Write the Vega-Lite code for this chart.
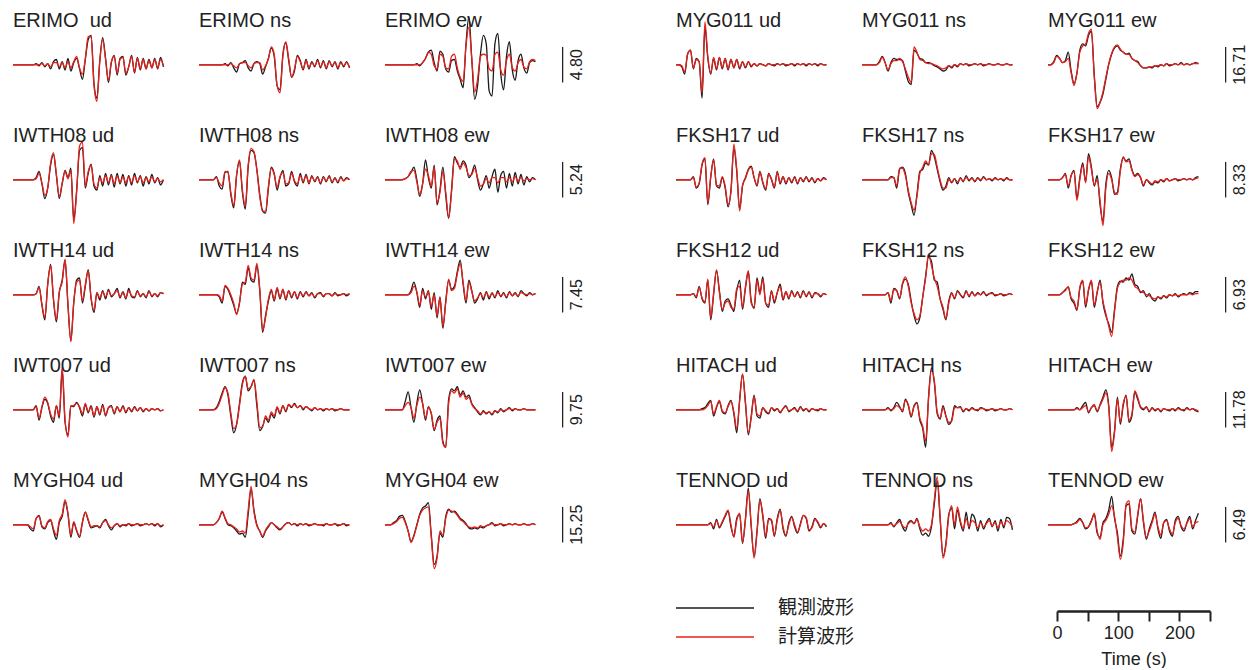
{
  "$schema": "https://vega.github.io/schema/vega-lite/v6.json",
  "background": "white",
  "padding": {"left": 10, "top": 2, "right": 0, "bottom": 0},
  "config": {"view": {"stroke": null}, "font": "Liberation Sans"},
  "spacing": 87,
  "hconcat": [
    {
      "data": {"values": [
        {"s":"ERIMO","c":"ud","p":"ERIMO \u00a0ud","t":[0,5,10,15,20,25,30,35,40,45,50,55,60,65,70,75,80,85,90,95,100,105,110,115,120,125,130,135,140,145,150,155,160,165,170,175,180,185,190,195,200,205,210,215,220,225,230,235,240,245,250,255,260],
         "o":[0,0,0,0,0,0,0,0,1,-1,2,-2,1,-4,3,5,-4,3,-5,6,-6,2,6,-4,-14,5,24,28,-18,-32,4,26,6,-17,2,9,-10,6,8,-10,-2,9,-8,7,-5,6,-4,5,-3,6,-4,7,-2],
         "y":[0,0,0,0,0,0,0,0,0,0,1,-1,1,-2,2,2,-2,2,-3,3,-3,3,8,-3,-9,6,27,27,-20,-35,3,24,5,-15,3,8,-8,5,7,-8,-2,8,-7,6,-4,5,-4,4,-3,5,-3,5,-1]},
        {"s":"ERIMO","c":"ns","p":"ERIMO ns","t":[0,5,10,15,20,25,30,35,40,45,50,55,60,65,70,75,80,85,90,95,100,105,110,115,120,125,130,135,140,145,150,155,160,165,170,175,180,185,190,195,200,205,210,215,220,225,230,235,240,245,250,255,260],
         "o":[0,0,0,0,0,0,0,0,0,1,-1,2,-3,-7,1,2,4,-3,-6,1,3,1,-9,-2,6,16,8,-20,-24,10,21,4,-12,-6,9,4,-5,5,-4,3,-2,5,-3,4,-4,4,-2,3,-4,3,-2,3,-3],
         "y":[0,0,0,0,0,0,0,0,0,0,0,1,-1,-3,1,2,2,-1,-3,1,2,2,-5,-1,6,17,10,-20,-27,8,22,6,-12,-4,8,3,-4,4,-3,2,-1,4,-2,3,-3,3,-1,2,-3,2,-1,2,-2]},
        {"s":"ERIMO","c":"ew","p":"ERIMO ew","sb":4.80,"t":[0,5,10,15,20,25,30,35,40,45,50,55,60,65,70,75,80,85,90,95,100,105,110,115,120,125,130,135,140,145,150,155,160,165,170,175,180,185,190,195,200,205,210,215,220,225,230,235,240,245,250,255,260],
         "o":[0,0,0,0,0,0,0,0,0,0,0,1,-1,2,6,12,14,2,-6,13,10,-4,-7,4,5,-6,-14,-22,20,46,5,-33,-20,10,28,20,-25,-30,20,30,-8,-24,8,22,-5,-15,4,10,-3,-8,2,4,3],
         "y":[0,0,0,0,0,0,0,0,0,0,0,0,0,2,6,12,10,-1,-4,10,8,-3,-4,8,10,-3,-12,-16,18,36,6,-26,-14,8,10,9,-4,-6,10,12,-5,-10,4,10,-3,-6,2,5,-2,-4,3,5,4]},
        {"s":"IWTH08","c":"ud","p":"IWTH08 ud","t":[0,5,10,15,20,25,30,35,40,45,50,55,60,65,70,75,80,85,90,95,100,105,110,115,120,125,130,135,140,145,150,155,160,165,170,175,180,185,190,195,200,205,210,215,220,225,230,235,240,245,250,255,260],
         "o":[0,0,0,0,0,0,0,0,2,8,-4,-18,-8,14,24,4,-18,-4,9,2,11,-38,-10,28,31,-8,6,15,-6,-10,4,-6,6,-5,5,-7,6,-4,5,-6,4,-5,6,-3,4,-6,3,-4,5,-3,2,-5,0],
         "y":[0,0,0,0,0,0,0,0,1,6,-3,-15,-8,16,26,5,-16,-3,8,1,9,-42,-12,32,36,-6,8,14,-4,-8,2,-3,4,-3,4,-4,4,-3,3,-3,3,-3,4,-2,3,-3,2,-2,3,-2,1,-2,0]},
        {"s":"IWTH08","c":"ns","p":"IWTH08 ns","t":[0,5,10,15,20,25,30,35,40,45,50,55,60,65,70,75,80,85,90,95,100,105,110,115,120,125,130,135,140,145,150,155,160,165,170,175,180,185,190,195,200,205,210,215,220,225,230,235,240,245,250,255,260],
         "o":[0,0,0,0,0,0,3,-6,-9,7,8,-14,-27,4,18,-12,-28,12,28,26,10,-14,-30,-32,-8,12,6,-10,2,9,-6,-4,8,-2,-6,6,-3,5,-4,4,-2,3,-4,3,-2,4,-3,2,-3,3,-1,2,0],
         "y":[0,0,0,0,0,0,2,-3,-6,8,7,-12,-25,5,19,-10,-25,14,30,27,9,-16,-30,-30,-6,11,5,-7,3,7,-4,-3,6,-1,-4,4,-2,4,-3,3,-1,2,-3,2,-1,3,-2,1,-2,2,-1,1,0]},
        {"s":"IWTH08","c":"ew","p":"IWTH08 ew","sb":5.24,"t":[0,5,10,15,20,25,30,35,40,45,50,55,60,65,70,75,80,85,90,95,100,105,110,115,120,125,130,135,140,145,150,155,160,165,170,175,180,185,190,195,200,205,210,215,220,225,230,235,240,245,250,255,260],
         "o":[0,0,0,0,0,0,0,1,3,7,12,0,-16,-4,19,2,-8,14,-24,-10,12,-15,-37,-10,22,16,12,18,14,2,6,14,0,-10,-4,4,-8,3,10,-12,4,8,-8,6,-6,7,-4,5,-5,3,-2,2,0],
         "y":[0,0,0,0,0,0,0,1,3,8,9,-2,-14,-4,10,4,-6,12,-22,-12,8,-12,-36,-12,20,18,10,16,12,4,5,11,2,-6,-4,1,-3,2,2,-3,2,2,-2,2,-2,3,-1,2,-1,1,0,1,0]},
        {"s":"IWTH14","c":"ud","p":"IWTH14 ud","t":[0,5,10,15,20,25,30,35,40,45,50,55,60,65,70,75,80,85,90,95,100,105,110,115,120,125,130,135,140,145,150,155,160,165,170,175,180,185,190,195,200,205,210,215,220,225,230,235,240,245,250,255,260],
         "o":[0,0,0,0,0,0,0,0,1,8,-10,-24,10,29,-5,-26,2,14,33,-10,-44,-8,14,16,-8,8,24,-4,-17,2,-5,4,-4,5,-2,1,6,-3,3,-4,6,-2,-3,4,-2,1,-3,4,-2,1,-2,2,1],
         "y":[0,0,0,0,0,0,0,0,1,7,-9,-22,10,28,-4,-24,3,12,34,-9,-45,-7,12,14,-6,10,23,-3,-15,2,-3,3,-2,4,-1,1,4,-2,2,-3,4,-1,-2,3,-1,1,-2,3,-1,1,-1,2,1]},
        {"s":"IWTH14","c":"ns","p":"IWTH14 ns","t":[0,5,10,15,20,25,30,35,40,45,50,55,60,65,70,75,80,85,90,95,100,105,110,115,120,125,130,135,140,145,150,155,160,165,170,175,180,185,190,195,200,205,210,215,220,225,230,235,240,245,250,255,260],
         "o":[0,0,0,0,0,0,0,-2,-8,8,5,-2,-10,-18,-8,12,10,26,14,12,28,4,-36,-20,-6,4,-6,6,-4,5,-5,4,-3,3,-4,3,-2,3,-1,2,-3,1,2,-2,1,1,-1,2,-1,0,1,-1,1],
         "y":[0,0,0,0,0,0,0,-1,-6,9,6,0,-8,-19,-7,10,12,28,16,14,30,6,-34,-22,-4,5,-5,7,-3,5,-4,4,-2,3,-3,2,-1,2,-1,1,-2,1,1,-1,1,1,-1,1,0,0,1,0,1]},
        {"s":"IWTH14","c":"ew","p":"IWTH14 ew","sb":7.45,"t":[0,5,10,15,20,25,30,35,40,45,50,55,60,65,70,75,80,85,90,95,100,105,110,115,120,125,130,135,140,145,150,155,160,165,170,175,180,185,190,195,200,205,210,215,220,225,230,235,240,245,250,255,260],
         "o":[0,0,0,0,0,0,0,0,0,4,12,2,-12,6,-4,4,-14,2,-22,-2,-32,-6,14,5,8,22,33,10,-8,14,4,-8,-4,2,-5,3,-4,2,-3,4,-2,2,-3,3,-1,2,-2,4,1,-1,2,0,1],
         "y":[0,0,0,0,0,0,0,0,0,2,8,3,-10,4,-2,3,-11,0,-20,-3,-30,-8,15,4,6,20,30,12,-6,12,3,-6,-3,1,-3,2,-2,1,-2,2,-1,1,-2,2,-1,1,-1,2,1,0,1,0,1]},
        {"s":"IWT007","c":"ud","p":"IWT007 ud","t":[0,5,10,15,20,25,30,35,40,45,50,55,60,65,70,75,80,85,90,95,100,105,110,115,120,125,130,135,140,145,150,155,160,165,170,175,180,185,190,195,200,205,210,215,220,225,230,235,240,245,250,255,260],
         "o":[0,0,0,0,0,0,0,0,4,-10,2,10,6,-6,-12,4,-8,38,-12,-24,4,3,7,2,-6,5,-3,4,-7,3,-5,5,-6,2,4,-4,3,-2,4,-3,2,-2,3,-1,2,-2,1,-1,1,0,1,-1,0],
         "y":[0,0,0,0,0,0,0,0,3,-8,3,12,7,-4,-9,4,-6,41,-10,-26,3,4,6,3,-4,6,-2,3,-6,3,-4,4,-5,2,3,-3,3,-2,3,-2,2,-1,2,-1,2,-1,1,-1,1,0,1,-1,0]},
        {"s":"IWT007","c":"ns","p":"IWT007 ns","t":[0,5,10,15,20,25,30,35,40,45,50,55,60,65,70,75,80,85,90,95,100,105,110,115,120,125,130,135,140,145,150,155,160,165,170,175,180,185,190,195,200,205,210,215,220,225,230,235,240,245,250,255,260],
         "o":[0,0,0,0,0,0,2,8,16,22,14,-6,-22,-14,6,26,32,18,22,28,4,-20,-16,-8,-12,-4,-8,2,-4,4,-2,5,2,6,2,4,0,3,1,-1,2,0,1,-1,1,0,1,-1,0,1,0,0,0],
         "y":[0,0,0,0,0,0,1,6,14,21,16,-3,-18,-14,4,24,32,20,22,29,8,-17,-16,-6,-10,-2,-6,3,-3,4,-1,5,3,5,2,4,1,3,1,0,2,0,1,0,1,0,1,0,0,1,0,0,0]},
        {"s":"IWT007","c":"ew","p":"IWT007 ew","sb":9.75,"t":[0,5,10,15,20,25,30,35,40,45,50,55,60,65,70,75,80,85,90,95,100,105,110,115,120,125,130,135,140,145,150,155,160,165,170,175,180,185,190,195,200,205,210,215,220,225,230,235,240,245,250,255,260],
         "o":[0,0,0,0,0,0,0,8,17,2,-12,6,19,6,-10,3,-4,-20,-10,-6,-30,-36,10,20,18,22,14,18,12,14,6,2,-2,-5,-1,-4,-2,-5,-1,-3,1,-2,0,2,-1,1,0,0,1,0,0,0,0],
         "y":[0,0,0,0,0,0,0,4,7,2,-8,4,12,6,-8,2,-3,-19,-12,-8,-32,-36,6,18,16,20,12,16,10,12,5,1,-1,-4,-2,-3,-2,-4,-1,-2,0,-1,0,1,0,1,0,0,1,0,0,0,0]},
        {"s":"MYGH04","c":"ud","p":"MYGH04 ud","t":[0,5,10,15,20,25,30,35,40,45,50,55,60,65,70,75,80,85,90,95,100,105,110,115,120,125,130,135,140,145,150,155,160,165,170,175,180,185,190,195,200,205,210,215,220,225,230,235,240,245,250,255,260],
         "o":[0,0,0,0,0,0,-4,-6,6,9,-2,-4,2,4,-6,-14,2,8,22,10,-12,2,-6,-12,2,12,4,-3,-2,-1,-3,2,5,-1,-5,-1,1,-2,0,-1,1,-1,0,1,-1,0,1,0,1,-1,1,-2,0],
         "y":[0,0,0,0,0,0,-2,-4,6,8,-1,-3,3,5,-4,-10,4,10,24,11,-10,3,-5,-11,3,12,5,-2,-1,-1,-2,2,4,0,-3,-1,1,-1,0,0,1,0,0,1,0,0,1,0,1,0,1,-1,0]},
        {"s":"MYGH04","c":"ns","p":"MYGH04 ns","t":[0,5,10,15,20,25,30,35,40,45,50,55,60,65,70,75,80,85,90,95,100,105,110,115,120,125,130,135,140,145,150,155,160,165,170,175,180,185,190,195,200,205,210,215,220,225,230,235,240,245,250,255,260],
         "o":[0,0,0,0,0,0,2,6,12,6,0,-1,-3,-6,-9,-8,-12,10,34,14,0,-6,-12,-6,-2,2,0,-3,-5,-2,1,2,0,1,-1,1,0,1,-1,0,1,0,0,-1,1,0,0,1,-1,0,1,-1,0],
         "y":[0,0,0,0,0,0,2,6,13,7,1,0,-2,-4,-7,-6,-8,14,37,12,-1,-6,-11,-5,-1,2,0,-2,-4,-2,1,2,0,1,0,1,0,1,0,0,1,0,0,0,1,0,0,1,0,0,1,0,0]},
        {"s":"MYGH04","c":"ew","p":"MYGH04 ew","sb":15.25,"t":[0,5,10,15,20,25,30,35,40,45,50,55,60,65,70,75,80,85,90,95,100,105,110,115,120,125,130,135,140,145,150,155,160,165,170,175,180,185,190,195,200,205,210,215,220,225,230,235,240,245,250,255,260],
         "o":[0,0,0,2,4,8,9,3,-6,-16,-10,0,10,16,18,21,-10,-38,-30,-8,-12,8,15,12,13,10,6,4,1,-3,-4,-3,-4,-2,-3,-1,0,2,-1,0,1,-1,0,1,0,1,0,0,1,0,0,1,0],
         "y":[0,0,0,1,3,6,7,2,-6,-17,-11,-1,9,14,16,17,-12,-42,-32,-6,-10,6,14,13,12,9,5,3,0,-2,-3,-2,-3,-1,-2,-1,0,1,0,0,1,0,0,1,0,1,0,0,1,0,0,1,0]}
      ]},
      "transform": [{"flatten": ["t", "o", "y"]}],
      "facet": {
        "row": {"field": "s", "type": "nominal", "sort": ["ERIMO", "IWTH08", "IWTH14", "IWT007", "MYGH04"], "header": null},
        "column": {"field": "c", "type": "nominal", "sort": ["ud", "ns", "ew"], "header": null}
      },
      "spacing": {"row": 0, "column": 24},
      "bounds": "flush",
      "spec": {
        "width": 162,
        "height": 115,
        "layer": [
          {"mark": {"type": "line", "color": "#1a1a1a", "strokeWidth": 1.3, "interpolate": "monotone"},
           "encoding": {
             "x": {"field": "t", "type": "quantitative", "scale": {"domain": [0, 265]}, "axis": null},
             "y": {"field": "o", "type": "quantitative", "scale": {"domain": [-42.6, 57.4]}, "axis": null}}},
          {"mark": {"type": "line", "color": "#e8201c", "strokeWidth": 1.3, "interpolate": "monotone"},
           "encoding": {
             "x": {"field": "t", "type": "quantitative"},
             "y": {"field": "y", "type": "quantitative"}}},
          {"transform": [{"filter": "datum.t == 0"}],
           "mark": {"type": "text", "align": "left", "baseline": "middle", "fontSize": 20, "font": "Liberation Sans", "color": "#222"},
           "encoding": {"x": {"datum": 0}, "y": {"datum": 41.7}, "text": {"field": "p"}}},
          {"transform": [{"filter": "datum.t == 0 && isValid(datum.sb)"}],
           "mark": {"type": "rule", "color": "#222", "strokeWidth": 1.3},
           "encoding": {"x": {"datum": 307}, "y": {"datum": -17}, "y2": {"datum": 17}}},
          {"transform": [{"filter": "datum.t == 0 && isValid(datum.sb)"}],
           "mark": {"type": "text", "angle": 270, "align": "center", "baseline": "middle", "fontSize": 16, "font": "Liberation Sans", "color": "#222"},
           "encoding": {"x": {"datum": 332}, "y": {"datum": 0}, "text": {"field": "sb", "type": "quantitative", "format": ".2f"}}}
        ]
      }
    },
    {
      "vconcat": [
        {
          "data": {"values": [
            {"s":"MYG011","c":"ud","p":"MYG011 ud","t":[0,5,10,15,20,25,30,35,40,45,50,55,60,65,70,75,80,85,90,95,100,105,110,115,120,125,130,135,140,145,150,155,160,165,170,175,180,185,190,195,200,205,210,215,220,225,230,235,240,245,250,255,260],
             "o":[0,0,-2,-9,10,14,-4,6,3,-32,36,6,-9,6,-5,7,-4,6,-5,5,-3,5,-4,3,-3,3,-2,1,-1,1,0,-1,1,0,-1,1,0,1,-1,0,1,-1,1,0,1,-1,1,0,1,-1,1,0,0],
             "y":[0,0,-1,-7,10,14,-3,5,3,-27,41,8,-8,7,-4,7,-3,6,-4,5,-3,5,-3,3,-2,3,-1,1,-1,1,0,-1,1,0,0,1,0,1,0,0,1,0,1,0,1,0,1,0,1,0,1,0,0]},
            {"s":"MYG011","c":"ns","p":"MYG011 ns","t":[0,5,10,15,20,25,30,35,40,45,50,55,60,65,70,75,80,85,90,95,100,105,110,115,120,125,130,135,140,145,150,155,160,165,170,175,180,185,190,195,200,205,210,215,220,225,230,235,240,245,250,255,260],
             "o":[0,0,0,0,0,0,3,8,2,-6,2,6,5,5,4,-6,-16,-19,14,11,6,5,2,2,1,-1,-2,-4,-6,-5,-1,-3,0,-2,1,0,1,-1,0,1,0,1,-1,0,1,0,0,1,0,0,1,0,0],
             "y":[0,0,0,0,0,0,2,7,2,-5,1,4,4,6,3,-4,-12,-17,17,12,5,4,2,1,1,0,-1,-3,-4,-3,-1,-2,0,-1,1,0,1,0,0,1,0,1,0,0,1,0,0,1,0,0,1,0,0]},
            {"s":"MYG011","c":"ew","p":"MYG011 ew","sb":16.71,"t":[0,5,10,15,20,25,30,35,40,45,50,55,60,65,70,75,80,85,90,95,100,105,110,115,120,125,130,135,140,145,150,155,160,165,170,175,180,185,190,195,200,205,210,215,220,225,230,235,240,245,250,255,260],
             "o":[0,0,3,9,6,2,4,12,-6,-18,-8,14,20,18,28,32,-10,-40,-36,-28,-14,0,10,16,18,14,12,10,11,6,4,3,-1,-3,-3,-2,-3,-1,-2,0,-1,1,-1,0,1,0,2,0,1,0,1,2,1],
             "y":[0,0,2,8,6,2,3,6,-8,-20,-8,12,18,20,30,34,-12,-42,-36,-26,-12,1,11,17,19,15,12,10,10,6,4,2,-1,-3,-3,-2,-2,-1,-1,0,-1,1,0,0,1,0,1,0,1,0,1,1,1]},
            {"s":"FKSH17","c":"ud","p":"FKSH17 ud","t":[0,5,10,15,20,25,30,35,40,45,50,55,60,65,70,75,80,85,90,95,100,105,110,115,120,125,130,135,140,145,150,155,160,165,170,175,180,185,190,195,200,205,210,215,220,225,230,235,240,245,250,255,260],
             "o":[0,0,0,0,0,0,3,-8,-4,14,20,-24,2,20,-6,-8,2,-8,-26,-10,30,8,-28,-6,2,10,13,2,-6,8,-3,-10,6,0,-8,8,-4,3,-4,2,-3,3,-4,2,-2,3,-2,2,-3,1,-1,2,0],
             "y":[0,0,0,0,0,0,2,-7,-3,15,21,-22,3,19,-5,-6,3,-6,-24,-12,34,10,-30,-5,1,9,12,2,-5,7,-2,-9,5,1,-7,7,-3,3,-3,2,-2,2,-3,2,-1,2,-1,1,-2,1,-1,1,0]},
            {"s":"FKSH17","c":"ns","p":"FKSH17 ns","t":[0,5,10,15,20,25,30,35,40,45,50,55,60,65,70,75,80,85,90,95,100,105,110,115,120,125,130,135,140,145,150,155,160,165,170,175,180,185,190,195,200,205,210,215,220,225,230,235,240,245,250,255,260],
             "o":[0,0,0,0,0,0,0,0,0,0,3,2,-8,10,12,6,-12,-24,-34,-14,8,10,16,14,28,22,10,-2,-10,-6,2,-3,1,-4,2,-2,4,-1,2,-2,2,-1,3,0,1,-1,2,0,1,-1,2,0,0],
             "y":[0,0,0,0,0,0,0,0,0,0,2,2,-6,11,11,4,-10,-22,-29,-16,6,12,18,14,25,24,12,0,-8,-8,0,-2,1,-2,1,-1,2,0,1,-1,1,0,2,0,1,0,1,0,1,0,1,0,0]},
            {"s":"FKSH17","c":"ew","p":"FKSH17 ew","sb":8.33,"t":[0,5,10,15,20,25,30,35,40,45,50,55,60,65,70,75,80,85,90,95,100,105,110,115,120,125,130,135,140,145,150,155,160,165,170,175,180,185,190,195,200,205,210,215,220,225,230,235,240,245,250,255,260],
             "o":[0,0,0,0,0,2,6,-8,4,9,-18,2,16,-2,25,12,-6,4,-24,-40,-4,9,2,-14,-12,10,21,18,20,10,4,6,2,-6,0,-3,-5,-2,-3,0,-2,1,-1,0,1,-1,0,1,0,1,0,2,3],
             "y":[0,0,0,0,0,2,5,-6,4,8,-20,0,14,-3,22,10,-5,0,-20,-44,-8,6,0,-12,-14,8,22,17,18,9,3,5,2,-5,0,-2,-4,-1,-2,0,-1,1,-1,0,1,0,0,1,0,1,0,1,2]},
            {"s":"FKSH12","c":"ud","p":"FKSH12 ud","t":[0,5,10,15,20,25,30,35,40,45,50,55,60,65,70,75,80,85,90,95,100,105,110,115,120,125,130,135,140,145,150,155,160,165,170,175,180,185,190,195,200,205,210,215,220,225,230,235,240,245,250,255,260],
             "o":[0,0,0,0,0,0,1,-3,8,-4,-8,14,-24,0,23,4,-16,-6,-4,-10,-16,4,14,-14,6,22,-6,-13,16,2,17,-8,-12,4,-8,2,10,-5,3,-4,4,-2,3,-3,4,-2,3,-3,2,1,-2,1,0],
             "y":[0,0,0,0,0,0,1,-2,7,-3,-7,15,-22,2,24,2,-14,-8,-6,-12,-14,6,8,-12,8,23,-8,-12,14,0,15,-8,-10,3,-6,2,8,-4,3,-3,3,-2,2,-2,3,-1,2,-2,1,1,-1,1,0]},
            {"s":"FKSH12","c":"ns","p":"FKSH12 ns","t":[0,5,10,15,20,25,30,35,40,45,50,55,60,65,70,75,80,85,90,95,100,105,110,115,120,125,130,135,140,145,150,155,160,165,170,175,180,185,190,195,200,205,210,215,220,225,230,235,240,245,250,255,260],
             "o":[0,0,0,0,0,0,0,0,0,2,-8,6,4,-4,10,15,10,-6,-20,-28,-22,-2,18,36,32,14,12,-4,-14,-24,-6,2,-4,4,0,-3,4,-2,3,-1,2,0,3,-1,1,2,-1,0,1,-1,0,1,0],
             "y":[0,0,0,0,0,0,0,0,0,2,-6,5,4,-3,11,17,8,-8,-18,-24,-20,-2,16,39,28,16,8,-4,-12,-23,-8,1,-3,3,0,-2,3,-1,2,-1,1,0,2,0,1,1,0,0,1,0,0,1,0]},
            {"s":"FKSH12","c":"ew","p":"FKSH12 ew","sb":6.93,"t":[0,5,10,15,20,25,30,35,40,45,50,55,60,65,70,75,80,85,90,95,100,105,110,115,120,125,130,135,140,145,150,155,160,165,170,175,180,185,190,195,200,205,210,215,220,225,230,235,240,245,250,255,260],
             "o":[0,0,0,0,0,2,5,7,-4,-8,-15,6,13,-12,4,13,-12,2,14,-8,-20,-28,-36,-14,8,13,12,16,14,20,10,8,2,4,-2,1,-4,-6,-2,-4,-1,-3,0,-1,1,-2,0,1,0,2,1,3,3],
             "y":[0,0,0,0,0,2,4,8,-3,-6,-14,7,14,-10,5,14,-10,3,12,-6,-18,-30,-40,-16,6,12,14,14,16,14,8,6,3,2,0,-1,-3,-4,-2,-3,-1,-2,0,-1,0,-1,0,0,0,1,0,1,1]},
            {"s":"HITACH","c":"ud","p":"HITACH ud","t":[0,5,10,15,20,25,30,35,40,45,50,55,60,65,70,75,80,85,90,95,100,105,110,115,120,125,130,135,140,145,150,155,160,165,170,175,180,185,190,195,200,205,210,215,220,225,230,235,240,245,250,255,260],
             "o":[0,0,0,0,0,0,0,0,0,1,2,6,9,-6,2,8,-2,-4,4,9,-4,-22,10,34,6,-24,-6,14,-6,-8,2,-2,-4,2,-1,1,-3,1,4,-2,0,2,-2,3,-1,1,-2,1,0,-1,1,0,0],
             "y":[0,0,0,0,0,0,0,0,0,0,1,4,8,-4,3,9,-1,-3,3,8,-2,-18,8,34,8,-22,-8,13,-4,-6,2,-1,-3,2,0,1,-2,1,3,-1,0,1,-1,2,0,1,-1,1,0,0,1,0,0]},
            {"s":"HITACH","c":"ns","p":"HITACH ns","t":[0,5,10,15,20,25,30,35,40,45,50,55,60,65,70,75,80,85,90,95,100,105,110,115,120,125,130,135,140,145,150,155,160,165,170,175,180,185,190,195,200,205,210,215,220,225,230,235,240,245,250,255,260],
             "o":[0,0,0,0,0,0,0,0,0,2,-1,2,7,3,-2,10,4,-7,4,7,-10,-18,-36,12,40,26,-4,-9,4,-6,-14,-10,4,2,3,-2,1,-1,2,0,-1,2,1,-1,0,1,-1,0,1,0,0,1,0],
             "y":[0,0,0,0,0,0,0,0,0,1,0,1,4,2,-1,9,5,-6,3,6,-8,-16,-30,10,38,28,-2,-8,2,-6,-12,-11,2,2,2,-1,1,0,1,0,0,1,1,0,0,1,0,0,1,0,0,1,0]},
            {"s":"HITACH","c":"ew","p":"HITACH ew","sb":11.78,"t":[0,5,10,15,20,25,30,35,40,45,50,55,60,65,70,75,80,85,90,95,100,105,110,115,120,125,130,135,140,145,150,155,160,165,170,175,180,185,190,195,200,205,210,215,220,225,230,235,240,245,250,255,260],
             "o":[0,0,0,0,0,0,0,0,0,0,2,0,4,7,-3,2,4,-2,5,12,19,4,-36,-20,12,-14,4,14,-12,-6,17,10,2,0,3,-2,2,-1,1,-2,1,0,-1,1,-1,2,0,-1,2,0,1,-1,-2],
             "y":[0,0,0,0,0,0,0,0,0,0,1,0,2,4,-2,2,5,-1,4,10,16,2,-40,-22,10,-12,6,13,-10,-4,18,12,3,1,2,-1,1,0,1,-1,1,0,0,1,0,1,0,0,1,0,1,0,-1]},
            {"s":"TENNOD","c":"ud","p":"TENNOD ud","t":[0,5,10,15,20,25,30,35,40,45,50,55,60,65,70,75,80,85,90,95,100,105,110,115,120,125,130,135,140,145,150,155,160,165,170,175,180,185,190,195,200,205,210,215,220,225,230,235,240,245,250,255,260],
             "o":[0,0,0,0,0,0,0,0,0,0,0,0,2,-4,5,-3,2,8,13,-2,-11,6,10,-18,6,35,-2,-30,-6,25,8,-13,6,4,-11,6,15,-4,-11,2,8,-2,-8,1,9,6,-6,-2,6,2,-3,1,-2],
             "y":[0,0,0,0,0,0,0,0,0,0,0,0,1,-2,4,-2,3,9,14,0,-12,4,11,-17,4,32,0,-32,-8,23,10,-11,5,5,-10,4,14,-2,-10,0,7,0,-7,0,9,7,-5,-3,5,3,-2,1,-1]},
            {"s":"TENNOD","c":"ns","p":"TENNOD ns","t":[0,5,10,15,20,25,30,35,40,45,50,55,60,65,70,75,80,85,90,95,100,105,110,115,120,125,130,135,140,145,150,155,160,165,170,175,180,185,190,195,200,205,210,215,220,225,230,235,240,245,250,255,260],
             "o":[0,0,0,0,0,0,0,0,0,0,2,-2,2,5,-2,-6,2,4,1,6,-4,-10,-8,-11,-2,20,42,6,-30,-18,10,16,-4,14,2,-6,12,-4,10,6,-6,4,-4,2,6,-2,4,-6,5,-3,7,6,-5],
             "y":[0,0,0,0,0,0,0,0,0,0,1,-1,1,3,-1,-3,1,3,1,5,-2,-6,-4,-6,0,24,46,8,-32,-20,8,18,0,17,4,-4,6,-2,4,2,-3,2,-2,1,4,-1,2,-3,3,-1,4,2,-2]},
            {"s":"TENNOD","c":"ew","p":"TENNOD ew","sb":6.49,"t":[0,5,10,15,20,25,30,35,40,45,50,55,60,65,70,75,80,85,90,95,100,105,110,115,120,125,130,135,140,145,150,155,160,165,170,175,180,185,190,195,200,205,210,215,220,225,230,235,240,245,250,255,260],
             "o":[0,0,0,0,0,0,0,0,0,1,3,6,2,-4,-2,4,10,-8,-12,2,6,14,27,6,-8,-30,-14,18,20,-6,-9,8,25,2,-14,-4,4,12,-4,-13,2,5,-6,-11,4,8,-2,-6,2,8,-4,4,11],
             "y":[0,0,0,0,0,0,0,0,0,1,2,5,2,-3,-2,3,11,-6,-14,0,4,10,18,8,-12,-33,-18,20,23,-4,-7,10,25,4,-12,-6,2,10,-2,-10,2,4,-4,-9,2,6,-1,-4,1,6,-2,2,3]}
          ]},
          "transform": [{"flatten": ["t", "o", "y"]}],
          "facet": {
            "row": {"field": "s", "type": "nominal", "sort": ["MYG011", "FKSH17", "FKSH12", "HITACH", "TENNOD"], "header": null},
            "column": {"field": "c", "type": "nominal", "sort": ["ud", "ns", "ew"], "header": null}
          },
          "spacing": {"row": 0, "column": 24},
          "bounds": "flush",
          "spec": {
            "width": 162,
            "height": 115,
            "layer": [
              {"mark": {"type": "line", "color": "#1a1a1a", "strokeWidth": 1.3, "interpolate": "monotone"},
               "encoding": {
                 "x": {"field": "t", "type": "quantitative", "scale": {"domain": [0, 265]}, "axis": null},
                 "y": {"field": "o", "type": "quantitative", "scale": {"domain": [-42.6, 57.4]}, "axis": null}}},
              {"mark": {"type": "line", "color": "#e8201c", "strokeWidth": 1.3, "interpolate": "monotone"},
               "encoding": {
                 "x": {"field": "t", "type": "quantitative"},
                 "y": {"field": "y", "type": "quantitative"}}},
              {"transform": [{"filter": "datum.t == 0"}],
               "mark": {"type": "text", "align": "left", "baseline": "middle", "fontSize": 20, "font": "Liberation Sans", "color": "#222"},
               "encoding": {"x": {"datum": 0}, "y": {"datum": 41.7}, "text": {"field": "p"}}},
              {"transform": [{"filter": "datum.t == 0 && isValid(datum.sb)"}],
               "mark": {"type": "rule", "color": "#222", "strokeWidth": 1.3},
               "encoding": {"x": {"datum": 307}, "y": {"datum": -17}, "y2": {"datum": 17}}},
              {"transform": [{"filter": "datum.t == 0 && isValid(datum.sb)"}],
               "mark": {"type": "text", "angle": 270, "align": "center", "baseline": "middle", "fontSize": 16, "font": "Liberation Sans", "color": "#222"},
               "encoding": {"x": {"datum": 332}, "y": {"datum": 0}, "text": {"field": "sb", "type": "quantitative", "format": ".2f"}}}
            ]
          }
        },
        {
          "spacing": 196,
          "hconcat": [
            {
              "width": 78,
              "height": 29,
              "data": {"values": [{"k": "観測波形"}, {"k": "計算波形"}]},
              "layer": [
                {"mark": {"type": "rule", "strokeWidth": 1.5},
                 "encoding": {
                   "x": {"datum": 0, "type": "quantitative", "scale": {"domain": [0, 1]}, "axis": null},
                   "x2": {"datum": 1},
                   "y": {"field": "k", "type": "nominal", "scale": {"type": "point", "padding": 0, "domain": ["観測波形", "計算波形"]}, "axis": null},
                   "color": {"field": "k", "type": "nominal", "scale": {"domain": ["観測波形", "計算波形"], "range": ["#1a1a1a", "#e8201c"]}, "legend": null}}},
                {"mark": {"type": "text", "align": "left", "baseline": "middle", "dx": 24, "fontSize": 19, "font": "Noto Sans CJK JP", "color": "#222"},
                 "encoding": {
                   "x": {"datum": 1, "type": "quantitative"},
                   "y": {"field": "k", "type": "nominal"},
                   "text": {"field": "k"}}}
              ]
            },
            {
              "width": 153,
              "height": 3,
              "data": {"values": [{"t": 0}, {"t": 250}]},
              "mark": {"type": "point", "opacity": 0},
              "encoding": {
                "x": {"field": "t", "type": "quantitative", "scale": {"domain": [0, 250], "nice": false},
                  "axis": {"values": [0, 50, 100, 150, 200, 250], "labelExpr": "datum.value % 100 === 0 ? datum.label : ''",
                    "grid": false, "tickSize": 10, "tickWidth": 2, "tickColor": "#222", "domainWidth": 2.5, "domainColor": "#222",
                    "labelFontSize": 18, "labelFont": "Liberation Sans", "labelColor": "#222", "labelPadding": 3, "labelFlush": false,
                    "title": "Time (s)", "titleFontSize": 18, "titleFont": "Liberation Sans", "titleFontWeight": "normal", "titleColor": "#222", "titlePadding": 8}}
              }
            }
          ]
        }
      ],
      "spacing": 22
    }
  ]
}
